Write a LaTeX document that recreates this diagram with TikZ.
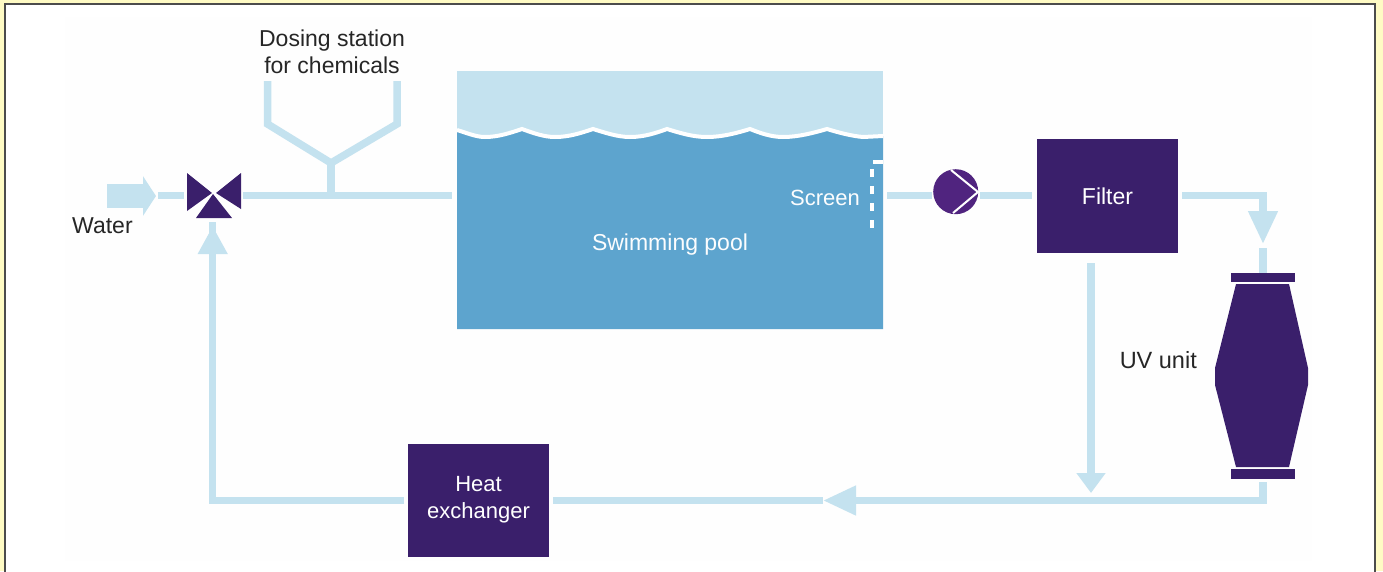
\documentclass[tikz,border=0pt]{standalone}
\usepackage{fontspec}
\setmainfont{Liberation Sans}
\usetikzlibrary{arrows.meta,positioning}
\definecolor{pipeblue}{HTML}{C4E2EF}
\definecolor{poolblue}{HTML}{5DA4CE}
\definecolor{unitpurple}{HTML}{3A1F6B}
\definecolor{pumppurple}{HTML}{50247F}
\definecolor{pageyellow}{HTML}{FFFBC4}
\definecolor{panelwhite}{HTML}{FEFEFE}
\def\wavepath{-- (457,130) .. controls (467,133) and (476,137) .. (485,137)
  .. controls (498,137) and (510,133) .. (522,129)
  .. controls (533,133) and (544,137) .. (555,137)
  .. controls (569,137) and (581,133) .. (593,129)
  .. controls (606,133) and (618,137) .. (630,137)
  .. controls (644,137) and (656,133) .. (667,129)
  .. controls (680,133) and (693,137) .. (707,137)
  .. controls (722,137) and (737,133) .. (750,129)
  .. controls (760,133) and (771,137) .. (783,137)
  .. controls (798,137) and (813,133) .. (827,129)
  .. controls (840,133) and (852,136) .. (863,137)
  -- (883,136)}

\begin{document}
\begin{tikzpicture}[x=1pt,y=-1pt,font=\fontsize{23}{26}\selectfont]
    \tikzstyle{pipe} = [draw=pipeblue,line width=7.5pt];
    \tikzstyle{pipehead} = [pipe,-{Triangle[width=28pt,length=33pt]}];
    \tikzstyle{shorthead} = [pipe,-{Triangle[width=28pt,length=20pt]}];
    \tikzstyle{unit} = [fill=unitpurple,text=white,minimum width=141pt,minimum height=114pt,align=center,inner sep=0pt];
    \tikzstyle{flange} = [fill=unitpurple,minimum width=64pt,minimum height=9.5pt,inner sep=0pt];
    \tikzstyle{onwater} = [text=white!95!pipeblue,inner sep=0pt];
    \tikzstyle{caption} = [text=black!85,inner sep=0pt,align=center];

    \useasboundingbox (0,0) rectangle (1383,571);
    \fill[pageyellow] (0,0) rectangle (1383,571);
    \draw[fill=white,draw=black!70,line width=1.6pt] (5,4) rectangle (1375,580);
    \fill[panelwhite] (65,17) rectangle (1312,561);

    % pool
    \fill[pipeblue] (457,71) rectangle (883,140);
    \fill[poolblue] (457,329) \wavepath -- (883,329) -- cycle;
    \draw[white,line width=4pt] (457,130) \wavepath;
    \draw[white,line width=4pt] (883,161.5) -- (873,161.5);
    \draw[white,line width=4pt,dash pattern=on 8pt off 9pt] (872,169) -- (872,229);
    \node[onwater] (pool) at (670,245) {Swimming pool};
    \node[onwater,anchor=east,font=\fontsize{22}{26}\selectfont] (screen) at (860,197.5) {Screen};

    % units
    \node[unit] (filter) at (1107.5,196) {Filter};
    \node[unit,minimum height=113pt,font=\fontsize{22}{26}\selectfont] (exchanger) at (478.5,500) {Heat\\[1pt]exchanger};
    \node[circle,fill=pumppurple,minimum size=45pt,inner sep=0pt] (pump) at (955.7,191.7) {};
    \draw[white,line width=2pt] (951,170) -- (978,192) -- (953,213);
    \node[flange] (uvtop) at (1263,277.5) {};
    \node[flange] (uvbot) at (1263,474) {};
    \fill[unitpurple] (1236,284) -- (1289,284) -- (1308,368) -- (1308,385) -- (1289,467)
        -- (1236,467) -- (1215,385) -- (1215,368) -- cycle;
    \node[caption,anchor=east,font=\fontsize{23.5}{26}\selectfont] (uvlabel) at (1197,360) {UV unit};

    % valve
    \coordinate (valve) at (214,195.5);
    \fill[unitpurple] (187,173) -- (187,211) -- (212,193) -- cycle;
    \fill[unitpurple] (241,173) -- (241,209) -- (216,193) -- cycle;
    \fill[unitpurple] (213,194) -- (196,218) -- (232,218) -- cycle;

    % dosing station
    \node[caption] (dosing) at (332,52) {Dosing station\\[1pt]for chemicals};
    \coordinate (dosL) at (267.5,81);
    \coordinate (dosR) at (397,81);
    \coordinate (dosJ) at (331,163);
    \coordinate (dosT) at (331,195.5);
    \draw[pipe] (dosL) -- (267.5,124) -- (dosJ) -- (397,124) -- (dosR);
    \draw[pipe] (dosJ) -- (dosT);

    % water inlet
    \node[caption,anchor=west] (water) at (72,226) {Water};
    \coordinate (inS) at (107,196);
    \coordinate (inT) at (156,196);
    \draw[draw=pipeblue,line width=24pt,-{Triangle[width=39pt,length=13pt]}] (inS) -- (inT);
    \draw[pipe] (158,195.5) -- ([xshift=-30pt]valve);

    % pipes
    \coordinate (poolin) at (452,195.5);
    \coordinate (poolout) at (887,195.5);
    \coordinate (pumpin) at (932,195.5);
    \coordinate (pumpout) at (980,195.5);
    \coordinate (filterin) at (1032,195.5);
    \coordinate (filterout) at (1182,195.5);
    \coordinate (uvin) at (1263,244);
    \coordinate (uvstub) at (1263,248);
    \coordinate (uvout) at (1263,482);
    \coordinate (midtip) at (823,500.5);
    \coordinate (bypass) at (1091,263);
    \coordinate (bypassend) at (1091,493);
    \coordinate (exright) at (553,500.5);
    \coordinate (exleft) at (404,500.5);
    \coordinate (rettip) at (212.7,226);
    \coordinate (retstub) at (212.7,222);
    \coordinate (retneck) at (212.7,240);

    \draw[pipe] ([xshift=29pt]valve) -- (poolin);
    \draw[pipe] (poolout) -- (pumpin);
    \draw[pipe] (pumpout) -- (filterin);
    \draw[pipehead] (filterout) -| (uvin);
    \draw[pipe] (uvstub) -- (uvtop.north);
    \draw[shorthead] (bypass) -- (bypassend);
    \draw[pipehead] (uvout) |- (midtip);
    \draw[pipe] (midtip) -- (exright);
    \draw[pipe,-{Triangle[width=28pt,length=28pt]}] (exleft) -| (rettip);
    \draw[pipe] (retstub) -- (retneck);
\end{tikzpicture}
\end{document}
